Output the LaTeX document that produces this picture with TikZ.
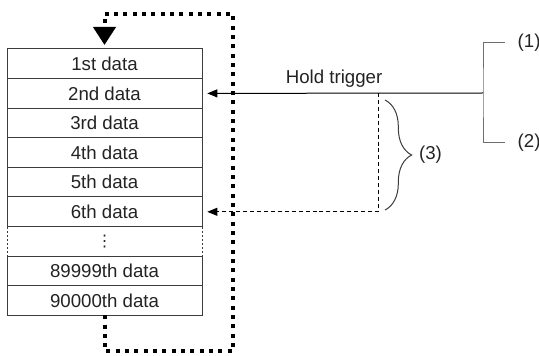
\documentclass[tikz,border=0pt]{standalone}
\usepackage{fontspec}
\setmainfont{Liberation Sans}
\newfontfamily\symfont{DejaVu Sans}
\usepackage{tikz}
\usetikzlibrary{arrows.meta, positioning, decorations.pathreplacing}
\definecolor{tablegray}{RGB}{60, 60, 60}
\definecolor{bracketgray}{RGB}{110, 110, 110}
\definecolor{textblack}{RGB}{35, 35, 35}

\begin{document}
\begin{tikzpicture}[
    x=0.75pt, y=-0.75pt,
    rowbox/.style={rectangle, draw=tablegray, line width=0.75pt, minimum width=146.25pt, minimum height=22.2pt, inner sep=0pt, outer sep=0pt, font=\fontsize{14}{16}\selectfont, text=textblack},
    sidedash/.style={draw=tablegray, line width=0.75pt, dash pattern=on 1.5pt off 1.5pt},
    loopline/.style={line width=3pt, dash pattern=on 3pt off 4pt, -{Triangle[length=13.5pt, width=16.5pt]}},
    trigger/.style={line width=0.75pt, -{Triangle[length=7.5pt, width=6pt]}, shorten >=4pt},
    label/.style={font=\fontsize{14}{16}\selectfont, text=textblack}
]
\useasboundingbox (0,0) rectangle (539,356);

% Data rows
\node[rowbox, anchor=north] (r1) at (104.5,49) {1st data};
\node[rowbox, below=0pt of r1] (r2) {2nd data};
\node[rowbox, below=0pt of r2] (r3) {3rd data};
\node[rowbox, below=0pt of r3] (r4) {4th data};
\node[rowbox, below=0pt of r4] (r5) {5th data};
\node[rowbox, below=0pt of r5] (r6) {6th data};
\node[rowbox, draw=none, below=0pt of r6, font=\symfont\fontsize{12}{14}\selectfont] (rdots) {⋮};
\node[rowbox, below=0pt of rdots] (r89999) {89999th data};
\node[rowbox, below=0pt of r89999] (r90000) {90000th data};
\draw[sidedash] (rdots.north west) -- (rdots.south west);
\draw[sidedash] (rdots.north east) -- (rdots.south east);

% Ring loop
\coordinate (loopbr) at (233,351);
\coordinate (looptr) at (233,14);
\draw[loopline] (r90000.south) |- (loopbr) -- (looptr) -| ([yshift=3pt]r1.north);

% Trigger inputs
\coordinate (trig) at (483,93);
\coordinate (in1) at (505,43);
\coordinate (in2) at (505,143);
\draw[bracketgray, line width=0.75pt] (in1) -| (trig) |- (in2);
\node[label, right=6pt of in1] (l1) {(1)};
\node[label, right=6pt of in2] (l2) {(2)};
\draw[trigger] (trig) -- node[label, above=1pt, pos=0.53] (holdlabel) {Hold trigger} (r2.east);

% Hold range
\coordinate (drop) at (378,93);
\draw[trigger, dash pattern=on 3pt off 2.2pt] (drop) |- (r6.east);
\draw[tablegray, line width=0.75pt, decorate, decoration={brace, amplitude=20pt}] (385,100) -- (385,210) coordinate[midway] (bracemid);
\node[label, right=22pt of bracemid] (l3) {(3)};
\end{tikzpicture}
\end{document}
